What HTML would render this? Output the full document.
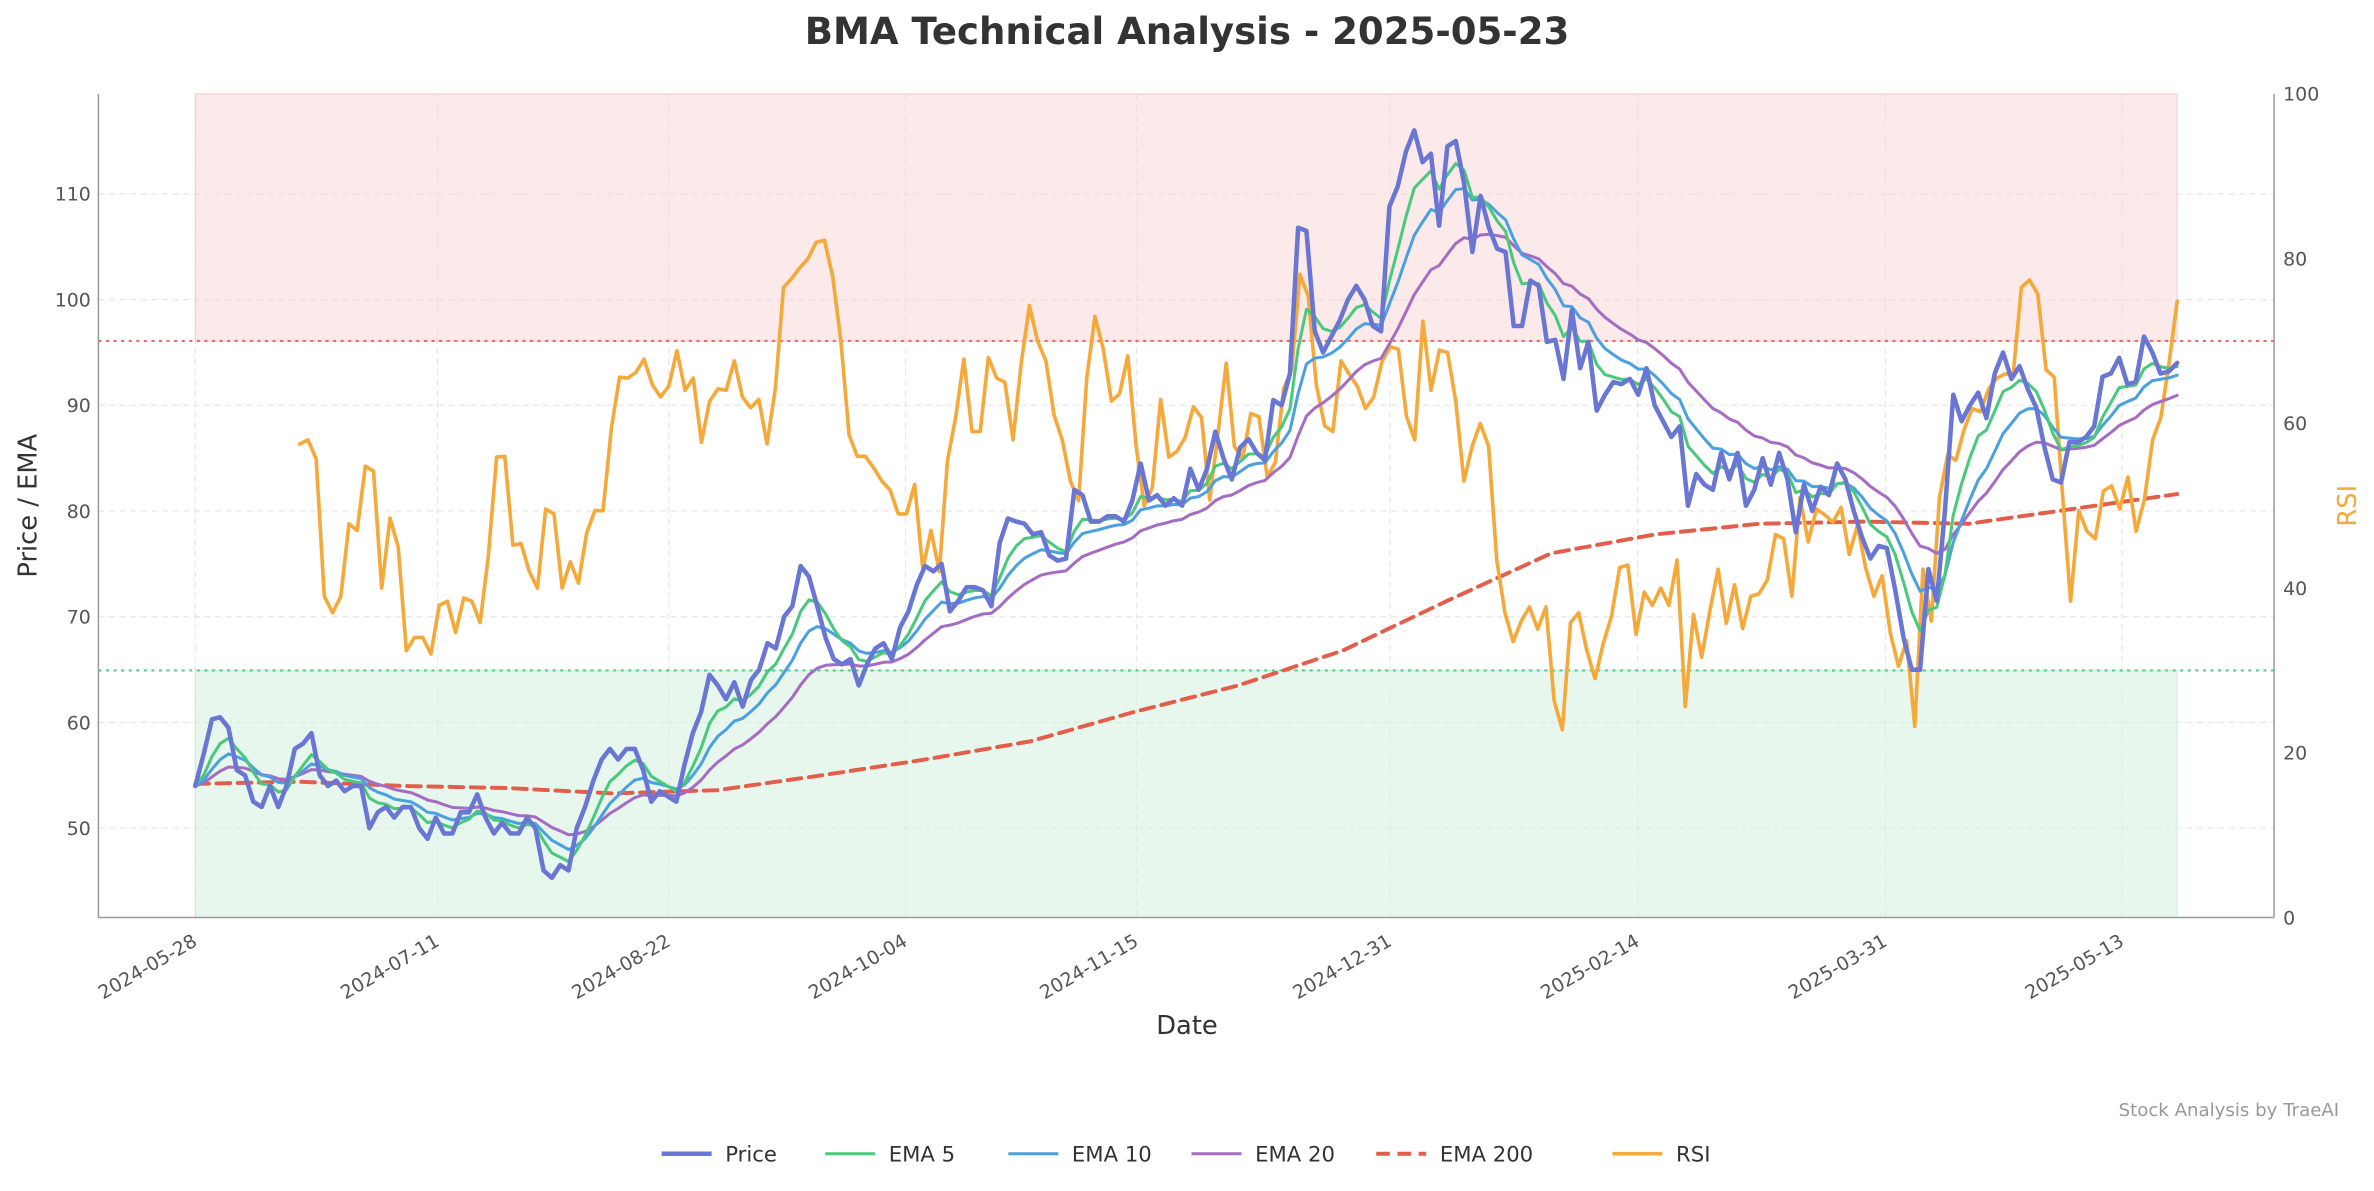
<!DOCTYPE html>
<html><head><meta charset="utf-8"><title>BMA Technical Analysis</title>
<style>html,body{margin:0;padding:0;background:#fff}svg{display:block}text{font-family:"DejaVu Sans","Liberation Sans",sans-serif}</style>
</head><body>
<svg id="chart" width="2374" height="1191" viewBox="0 0 1568 786.6" xmlns="http://www.w3.org/2000/svg">
<rect width="1568" height="786.6" fill="#fff"/>
<text x="784" y="29" text-anchor="middle" font-size="24.5" font-weight="bold" fill="#333">BMA Technical Analysis - 2025-05-23</text>
<g id="grid"></g><g id="bands"></g><g id="series"></g><g id="axes"></g>
<text transform="translate(24,334) rotate(-90)" text-anchor="middle" font-size="17" fill="#333">Price / EMA</text>
<text transform="translate(1556,334) rotate(-90)" text-anchor="middle" font-size="17" fill="#f5a93a">RSI</text>
<text x="784" y="683" text-anchor="middle" font-size="17" fill="#333">Date</text>
<text x="1545" y="737" text-anchor="end" font-size="12" fill="#999">Stock Analysis by TraeAI</text>
<g id="legend"></g>
</svg>
<script>
const dateTicks=["2024-05-28","2024-07-11","2024-08-22","2024-10-04","2024-11-15","2024-12-31","2025-02-14","2025-03-31","2025-05-13"];
const priceTicks=[50,60,70,80,90,100,110];
const rsiTicks=[0,20,40,60,80,100];
const startDate="2024-05-28", endDate="2025-05-23";
const price=[54,57,60.3,60.5,59.5,55.5,55,52.5,52,54,52,54,57.5,58,59,55,54,54.5,53.5,54,54,50,51.5,52,51,52,52,50,49,51,49.5,49.5,51.5,51.5,53.2,51,49.5,50.5,49.5,49.5,51,50,46,45.3,46.5,46,50,52,54.5,56.5,57.5,56.5,57.5,57.5,55.5,52.5,53.5,53,52.5,56,59,61,64.5,63.5,62.2,63.8,61.5,64,65,67.5,67,70,71,74.8,73.8,71,68,66,65.5,66,63.5,65.5,67,67.5,66,69,70.5,73,74.8,74.3,75,70.5,71.5,72.8,72.8,72.5,71,77,79.3,79,78.8,77.8,78,75.8,75.3,75.5,82,81.5,79,79,79.5,79.5,79,81,84.5,81,81.5,80.5,81.2,80.5,84,82,84,87.5,85,83,86,86.8,85.5,84.8,90.5,90,93,106.8,106.5,97,95,96.5,98,100,101.3,100,97.5,97,108.8,110.7,114,116,113,113.8,107,114.5,115,111,104.5,109.8,106.8,104.8,104.5,97.5,97.5,101.8,101.3,96,96.2,92.5,99,93.5,96,89.5,91,92.2,92,92.5,91,93.5,90,88.5,87,88,80.5,83.5,82.5,82,85.5,83,85.5,80.5,82,85,82.5,85.5,83,78,82.5,80,82.3,81.5,84.5,83,80,77.5,75.5,76.7,76.5,72.5,68,65,65,74.5,71.5,80,91,88.5,90,91.2,88.8,93,95,92.5,93.7,91.5,89.8,86,83,82.7,86.5,86.5,87,88,92.7,93,94.5,92,92.2,96.5,95,93,93.2,94];
const ema200=[54.2,54.4,54.0,53.8,53.3,53.6,55.0,56.5,58.2,61.0,63.5,66.8,71.5,76.0,77.8,78.8,79.0,78.8,80.2,81.6];
const rsi=[57.5,58,55.7,39,37,39,47.8,47,54.8,54.2,40,48.5,45,32.4,34,34,32,37.9,38.4,34.6,38.8,38.4,35.8,43.8,55.9,56,45.2,45.4,42,40,49.6,49,40,43.2,40.6,46.7,49.4,49.4,59.4,65.6,65.5,66.2,67.8,64.7,63.2,64.5,68.8,64,65.5,57.7,62.7,64.2,64,67.6,63.2,61.9,62.9,57.5,64.2,76.5,77.6,78.9,80,82,82.2,77.8,70,58.6,56,56,54.6,53,51.9,49,49,52.6,42.3,47,42,55.5,60.7,67.8,59,59,68,65.5,65,58,67.3,74.3,70,67.6,61,58,53,50.6,65.5,73,69,62.7,63.6,68.2,57.4,50,52.2,62.9,55.9,56.6,58.3,62,60.7,50.7,58.8,67.3,57.2,55.7,61.2,60.8,53.5,55.3,64.2,66.5,78.1,75.5,64.7,59.7,59,67.6,66,64.5,61.8,63.2,67.5,69.3,69,60.8,58,72.4,64,68.9,68.6,62.7,53,57.2,60,57.2,43.4,37,33.5,36,37.7,35,37.7,26.3,22.8,35.8,37,32.4,29,33.3,36.6,42.5,42.8,34.4,39.5,37.9,40,37.9,43.4,25.6,36.8,31.6,37.3,42.3,35.7,40.4,35.1,39,39.3,41,46.5,46,39,51,45.6,49.6,48.9,48,49.8,44.1,47.6,42.5,39,41.5,34.6,30.5,33.6,23.2,42.3,36,51,56.2,55.5,59.2,61.8,61.4,64.2,65.5,66,66,76.5,77.4,75.7,66.5,65.6,51.5,38.4,49.4,46.9,46,51.8,52.4,49.6,53.5,46.9,50.7,58,60.7,67.3,74.8];

const NS="http://www.w3.org/2000/svg";
const L=65,R=1502,T=62,B=606,X0=129,X1=1438;
const day=s=>Date.parse(s)/864e5;
const totalDays=day(endDate)-day(startDate);
const xDate=s=>X0+(day(s)-day(startDate))/totalDays*(X1-X0);
const xFrac=f=>X0+f*(X1-X0);
const yP=v=>547-(v-50)*6.983;
const yR=v=>B-v*(B-T)/100;
function el(tag,attrs,parent){const e=document.createElementNS(NS,tag);for(const k in attrs)e.setAttribute(k,attrs[k]);parent.appendChild(e);return e;}
const grid=document.getElementById('grid'),bands=document.getElementById('bands'),series=document.getElementById('series'),axes=document.getElementById('axes'),legend=document.getElementById('legend');

dateTicks.forEach(d=>{const x=xDate(d);const g=el('line',{x1:x,x2:x,y1:T,y2:B,stroke:'#e6e6e6','stroke-dasharray':'4,3','stroke-width':0.8},grid);

});
priceTicks.forEach(v=>{const y=yP(v);const g=el('line',{x1:L,x2:R,y1:y,y2:y,stroke:'#e6e6e6','stroke-dasharray':'4,3','stroke-width':0.8},grid);

});

const ob=el('rect',{x:X0,y:T,width:X1-X0,height:yR(70)-T,fill:'#f9d6d6','fill-opacity':0.5,stroke:'#f5c0c0','stroke-width':0.5},bands);


const os=el('rect',{x:X0,y:yR(30),width:X1-X0,height:B-yR(30),fill:'#d2f0dc','fill-opacity':0.5,stroke:'#bfead0','stroke-width':0.5},bands);


const l70=el('line',{x1:L,x2:R,y1:yR(70),y2:yR(70),stroke:'#e86a6a','stroke-dasharray':'2,3','stroke-width':1.4},bands);


const l30=el('line',{x1:L,x2:R,y1:yR(30),y2:yR(30),stroke:'#5cc98a','stroke-dasharray':'2,3','stroke-width':1.4},bands);



function ema(arr,n){const a=2/(n+1);const out=[];let e=arr[0];arr.forEach((v,i)=>{e=i?a*v+(1-a)*e:v;out.push(e);});return out;}
function line(vals,xf,yf,color,w,name,dash){const pts=vals.map((v,i)=>xf(i).toFixed(1)+','+yf(v).toFixed(1)).join(' ');
const p=el('polyline',{points:pts,fill:'none',stroke:color,'stroke-width':w,'stroke-linejoin':'round','stroke-linecap':'round'},series);
if(dash)p.setAttribute('stroke-dasharray',dash);

}
const N=price.length;
const xi=i=>xFrac(i/(N-1));
const rsiStartFrac=(198-X0)/(X1-X0);
line(ema200,i=>xFrac(i/(ema200.length-1)),yP,'#e35d4b',2.6,'ema200-line','9,5');
line(rsi,i=>xFrac(rsiStartFrac+(1-rsiStartFrac)*i/(rsi.length-1)),yR,'#f5a93a',2.4,'rsi-line');
line(ema(price,20),xi,yP,'#a56cc1',2,'ema20-line');
line(ema(price,10),xi,yP,'#4aa0e0',2,'ema10-line');
line(ema(price,5),xi,yP,'#48c97c',2,'ema5-line');
line(price,xi,yP,'#6a76d4',3,'price-line');

el('line',{x1:L,x2:L,y1:T,y2:B,stroke:'#999','stroke-width':1},axes);
el('line',{x1:R,x2:R,y1:T,y2:B,stroke:'#999','stroke-width':1},axes);
el('line',{x1:L,x2:R,y1:B,y2:B,stroke:'#999','stroke-width':1},axes);
priceTicks.forEach(v=>{const t=el('text',{x:60,y:yP(v)+4.5,'text-anchor':'end','font-size':12.5,fill:'#555'},axes);t.textContent=v;

});
rsiTicks.forEach(v=>{const t=el('text',{x:1508,y:yR(v)+4.5,'font-size':12.5,fill:'#555'},axes);t.textContent=v;

});
dateTicks.forEach(d=>{const x=xDate(d);const t=el('text',{transform:`translate(${x+2},${B+18}) rotate(-30)`,'text-anchor':'end','font-size':12.5,fill:'#555'},axes);t.textContent=d;

});

const leg=[["Price",'#6a76d4',3,null,437],["EMA 5",'#48c97c',2,null,545],["EMA 10",'#4aa0e0',2,null,666],["EMA 20",'#a56cc1',2,null,787],["EMA 200",'#e35d4b',2.6,'9,5',909],["RSI",'#f5a93a',2.4,null,1065]];
leg.forEach(([lab,c,w,d,x])=>{const g=el('g',{},legend);


const ln=el('line',{x1:x,x2:x+33,y1:762,y2:762,stroke:c,'stroke-width':w},g);if(d)ln.setAttribute('stroke-dasharray',d);
const t=el('text',{x:x+42,y:767,'font-size':14,fill:'#333'},g);t.textContent=lab;});
</script>
</body></html>
